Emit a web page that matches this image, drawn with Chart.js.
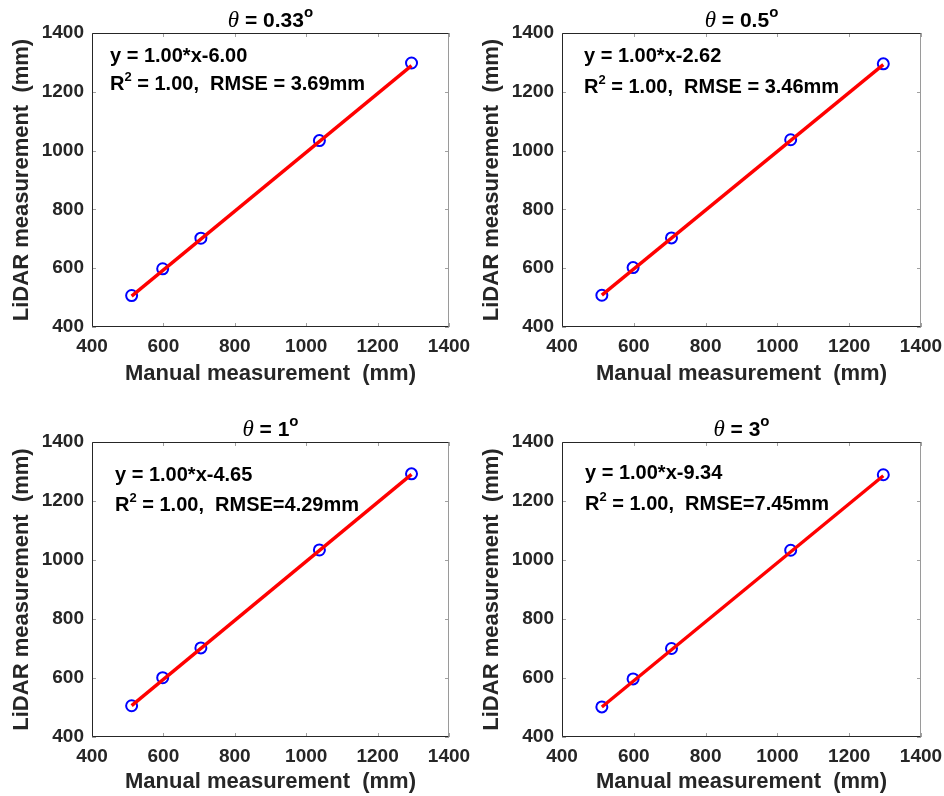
<!DOCTYPE html>
<html>
<head>
<meta charset="utf-8">
<script src="https://cdn.jsdelivr.net/npm/chart.js@4/dist/chart.umd.min.js"></script>
<style>
  html, body { margin: 0; padding: 0; background: #fff; }
  #wrap { position: relative; width: 944px; height: 796px; overflow: hidden; }
  canvas { position: absolute; }
</style>
</head>
<body>
<div id="wrap">
  <canvas id="c0"></canvas>
  <canvas id="c1"></canvas>
  <canvas id="c2"></canvas>
  <canvas id="c3"></canvas>
</div>
<script>
// manual reference lengths (mm), same for every tilt angle
const manualMm = [511, 598, 705, 1037, 1295];

// LiDAR lengths (mm) for each tilt angle
const lidarTheta033 = [507, 598, 702, 1034, 1298];
const lidarTheta05 = [508, 602, 703, 1037, 1295];
const lidarTheta1 = [506, 601, 702, 1034, 1292];
const lidarTheta3 = [502, 597, 700, 1033, 1289];

// linear fit results
const angles = ['0.33', '0.5', '1', '3'];
const fitSlope = [1.00, 1.00, 1.00, 1.00];
const fitIntercept = [-6.00, -2.62, -4.65, -9.34];
const rSquared = [1.00, 1.00, 1.00, 1.00];
const rmse = [3.69, 3.46, 4.29, 7.45];
const rmseSep = [' = ', ' = ', '=', '='];

const tickValues = [400, 600, 800, 1000, 1200, 1400];

const lidarSets = [lidarTheta033, lidarTheta05, lidarTheta1, lidarTheta3];

// canvas placement and plot box for each panel
const panels = [
  { left: 0,   top: 0,   w: 472, h: 400, areaTop: 33, areaBottom: 327, padRight: 23, xTitlePad: 15, txt: [18, 29, 57] },
  { left: 470, top: 0,   w: 474, h: 400, areaTop: 33, areaBottom: 327, padRight: 23, xTitlePad: 15, txt: [22, 29, 60] },
  { left: 0,   top: 400, w: 472, h: 396, areaTop: 42, areaBottom: 337, padRight: 23, xTitlePad: 3,  txt: [23, 39, 69] },
  { left: 470, top: 400, w: 474, h: 396, areaTop: 42, areaBottom: 337, padRight: 23, xTitlePad: 3,  txt: [23, 37, 68] }
];

const SANS = '"Liberation Sans", Arial, sans-serif';
const SERIF = '"Liberation Serif", "Times New Roman", serif';
const INK = '#262626';

// draw a row of text pieces with their own font and raise
function drawRuns(ctx, runs, x, y, align) {
  let total = 0;
  runs.forEach(r => { ctx.font = r.font; r.w = ctx.measureText(r.text).width; total += r.w; });
  let cx = align === 'center' ? x - total / 2 : x;
  ctx.textBaseline = 'alphabetic';
  ctx.textAlign = 'left';
  runs.forEach(r => {
    ctx.font = r.font;
    ctx.fillText(r.text, cx, y + (r.dy || 0));
    cx += r.w;
  });
}

function fmtFit(i) {
  const b = fitIntercept[i];
  return 'y = ' + fitSlope[i].toFixed(2) + '*x' + (b < 0 ? '-' : '+') + Math.abs(b).toFixed(2);
}

function makePlugin(i, p) {
  return {
    id: 'panelDecor' + i,
    afterDraw(chart) {
      const ctx = chart.ctx;
      const a = chart.chartArea;
      const xs = chart.scales.x, ys = chart.scales.y;
      ctx.save();

      // inward tick marks on all four sides
      ctx.strokeStyle = '#a0a0a0';
      ctx.lineWidth = 1;
      ctx.beginPath();
      tickValues.forEach(v => {
        const px = Math.round(xs.getPixelForValue(v)) + 0.5;
        ctx.moveTo(px, a.bottom); ctx.lineTo(px, a.bottom - 4);
        ctx.moveTo(px, a.top); ctx.lineTo(px, a.top + 4);
        const py = Math.round(ys.getPixelForValue(v)) + 0.5;
        ctx.moveTo(a.left, py); ctx.lineTo(a.left + 4, py);
        ctx.moveTo(a.right, py); ctx.lineTo(a.right - 4, py);
      });
      ctx.stroke();

      // axes box
      const L = Math.round(a.left) + 0.5, R = Math.round(a.right) - 0.5;
      const T = Math.round(a.top) + 0.5, B = Math.round(a.bottom) - 0.5;
      ctx.strokeStyle = '#9a9a9a';
      ctx.beginPath(); ctx.moveTo(R, T); ctx.lineTo(R, B); ctx.stroke();
      ctx.strokeStyle = INK;
      ctx.beginPath();
      ctx.moveTo(R, T); ctx.lineTo(L, T); ctx.lineTo(L, B); ctx.lineTo(R, B);
      ctx.stroke();

      ctx.fillStyle = '#000';
      // title with theta and superscript degree
      drawRuns(ctx, [
        { text: '\u03b8', font: 'italic 23px ' + SERIF },
        { text: ' = ' + angles[i], font: 'bold 21px ' + SANS },
        { text: 'o', font: 'bold 15px ' + SANS, dy: -10 }
      ], (a.left + a.right) / 2, a.top - 6, 'center');

      // fit equation and statistics
      const tx = a.left + p.txt[0];
      drawRuns(ctx, [{ text: fmtFit(i), font: 'bold 20px ' + SANS }], tx, a.top + p.txt[1], 'left');
      drawRuns(ctx, [
        { text: 'R', font: 'bold 20px ' + SANS },
        { text: '2', font: 'bold 13px ' + SANS, dy: -9 },
        { text: ' = ' + rSquared[i].toFixed(2) + ',  RMSE' + rmseSep[i] + rmse[i].toFixed(2) + 'mm', font: 'bold 20px ' + SANS }
      ], tx, a.top + p.txt[2], 'left');

      ctx.restore();
    }
  };
}

panels.forEach((p, i) => {
  const cv = document.getElementById('c' + i);
  cv.width = p.w; cv.height = p.h;
  cv.style.left = p.left + 'px'; cv.style.top = p.top + 'px';

  const ys = lidarSets[i];
  const pts = manualMm.map((x, k) => ({ x: x, y: ys[k] }));
  const x0 = Math.min(...manualMm), x1 = Math.max(...manualMm);
  const fitLine = [x0, x1].map(x => ({ x: x, y: fitSlope[i] * x + fitIntercept[i] }));

  const tickFont = { family: SANS, size: 19, weight: 'bold' };
  const titleFont = { family: SANS, size: 22, weight: 'bold', lineHeight: 1 };

  new Chart(cv.getContext('2d'), {
    type: 'scatter',
    data: {
      datasets: [
        {
          type: 'line',
          data: fitLine,
          borderColor: '#ff0000',
          borderWidth: 3.4,
          pointRadius: 0,
          fill: false,
          order: 0
        },
        {
          data: pts,
          pointStyle: 'circle',
          pointRadius: 5.5,
          pointBorderWidth: 2,
          pointBorderColor: '#0000ff',
          pointBackgroundColor: 'rgba(0,0,0,0)',
          order: 1
        }
      ]
    },
    options: {
      responsive: false,
      animation: false,
      layout: { padding: { left: 0, top: p.areaTop, right: p.padRight, bottom: 0 } },
      plugins: { legend: { display: false }, tooltip: { enabled: false } },
      scales: {
        x: {
          type: 'linear', min: 400, max: 1400,
          afterBuildTicks: s => { s.ticks = tickValues.map(v => ({ value: v })); },
          ticks: { padding: 8, font: tickFont, color: INK, maxRotation: 0, callback: v => String(v) },
          grid: { display: false, drawTicks: false },
          border: { display: false },
          title: { display: true, text: 'Manual measurement  (mm)', font: titleFont, color: INK, padding: { top: 0, bottom: p.xTitlePad } },
          afterFit: s => {
            s.height = p.h - p.areaBottom;
            s.paddingLeft = 0; s.paddingRight = 0;
          }
        },
        y: {
          type: 'linear', min: 400, max: 1400,
          afterBuildTicks: s => { s.ticks = tickValues.map(v => ({ value: v })); },
          ticks: { padding: 8, font: tickFont, color: INK, callback: v => String(v) },
          grid: { display: false, drawTicks: false },
          border: { display: false },
          title: { display: true, text: 'LiDAR measurement  (mm)', font: titleFont, color: INK, padding: { top: 11, bottom: 0 } },
          afterFit: s => {
            s.width = 92;
            s.paddingTop = 0; s.paddingBottom = 0;
          }
        }
      }
    },
    plugins: [makePlugin(i, p)]
  });
});
</script>
</body>
</html>
